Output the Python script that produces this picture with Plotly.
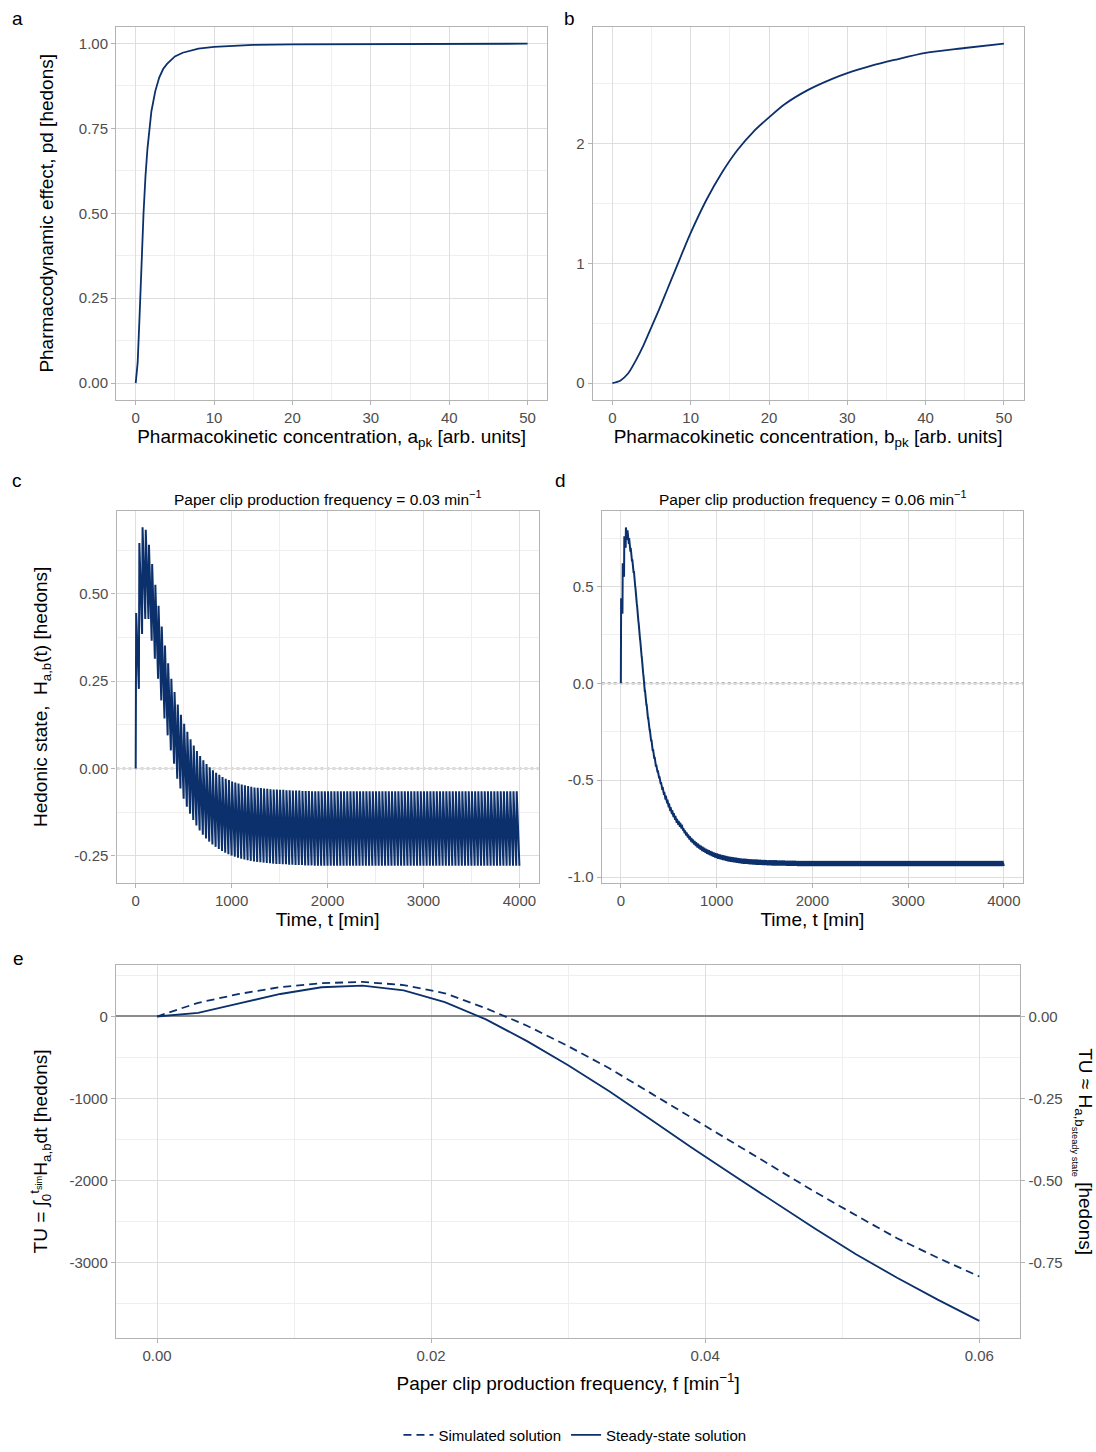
import plotly.graph_objects as go

# ------------------------------------------------------------------ data
# panel a : pharmacodynamic effect vs a_pk
a_conc = [0, 0.25, 0.5, 0.75, 1, 1.25, 1.5, 2, 2.5, 3, 3.5, 4, 5, 6, 7, 8, 10, 12, 15, 20, 25, 30, 40, 50]
a_pd = [0, 0.06, 0.20, 0.36, 0.50, 0.61, 0.69, 0.80, 0.86, 0.90, 0.925, 0.94, 0.962, 0.973,
        0.98, 0.985, 0.99, 0.993, 0.996, 0.9975, 0.998, 0.999, 0.9994, 0.9996]

# panel b : pharmacodynamic effect vs b_pk
b_conc = [0, 1, 2, 3, 4, 5, 6, 7, 8, 9, 10, 12, 14, 16, 18, 20, 22, 25, 28, 30, 33, 36, 40, 45, 50]
b_pd = [0, 0.02, 0.08, 0.19, 0.32, 0.47, 0.62, 0.78, 0.94, 1.10, 1.255, 1.53, 1.76, 1.95, 2.10,
        2.22, 2.33, 2.45, 2.54, 2.59, 2.65, 2.70, 2.76, 2.80, 2.837]

# panel c : hedonic state, f = 0.03 /min  (peak after each dose, trough before next dose)
c_freq = 0.03
c_peak = [0.445, 0.645, 0.690, 0.683, 0.640, 0.585, 0.526, 0.466, 0.406, 0.352, 0.301, 0.257,
          0.219, 0.183, 0.154, 0.128, 0.105, 0.084, 0.066, 0.050, 0.036, 0.024, 0.013, 0.004,
          -0.005, -0.012, -0.018, -0.024, -0.029, -0.033, -0.037, -0.040, -0.043, -0.046,
          -0.048, -0.050, -0.052, -0.054, -0.055, -0.056, -0.057, -0.058, -0.059, -0.060,
          -0.060, -0.061, -0.061, -0.062, -0.062, -0.063, -0.063, -0.063, -0.064, -0.064,
          -0.064] + [-0.065] * 65
c_trough = [0.228, 0.385, 0.428, 0.428, 0.366, 0.314, 0.257, 0.195, 0.143, 0.095, 0.052, 0.014,
            -0.029, -0.057, -0.086, -0.109, -0.129, -0.147, -0.163, -0.177, -0.189, -0.200,
            -0.209, -0.217, -0.224, -0.230, -0.236, -0.241, -0.245, -0.249, -0.252, -0.255,
            -0.258, -0.260, -0.262, -0.264, -0.266, -0.267, -0.268, -0.269, -0.270, -0.271,
            -0.272, -0.273, -0.273, -0.274, -0.274, -0.275, -0.275, -0.276, -0.276, -0.276,
            -0.277, -0.277, -0.277] + [-0.278] * 65

# panel d : hedonic state, f = 0.06 /min
d_freq = 0.06
d_peak = ([0.44, 0.62, 0.76, 0.805, 0.79, 0.75, 0.70, 0.64, 0.58, 0.49, 0.40, 0.31, 0.22, 0.13,
           0.04, -0.04, -0.11, -0.18, -0.24, -0.29, -0.34, -0.38, -0.42, -0.45, -0.48, -0.51,
           -0.535, -0.56, -0.58, -0.60, -0.62, -0.64, -0.655, -0.67, -0.685, -0.70, -0.71,
           -0.72, -0.73,
           -0.748, -0.760, -0.770, -0.780, -0.790, -0.798, -0.806, -0.814, -0.821, -0.827,
           -0.833, -0.839, -0.844, -0.849, -0.854, -0.858, -0.862, -0.866, -0.869, -0.873,
           -0.876, -0.879, -0.881, -0.884, -0.886, -0.888, -0.890, -0.892, -0.894, -0.895,
           -0.897, -0.898, -0.899, -0.900, -0.902, -0.903, -0.904, -0.905, -0.905, -0.906,
           -0.907, -0.908, -0.908, -0.909, -0.909, -0.910, -0.910, -0.911, -0.911, -0.912,
           -0.912, -0.912]
          + [-0.913] * 3 + [-0.914] * 4 + [-0.915] * 5 + [-0.916] * 7 + [-0.917] * 130)
d_trough = ([0.36, 0.55, 0.70, 0.74, 0.72, 0.68, 0.63, 0.57, 0.50, 0.41, 0.32, 0.23, 0.14, 0.05,
             -0.04, -0.11, -0.18, -0.24, -0.30, -0.35, -0.39, -0.43, -0.46, -0.49, -0.52, -0.55,
             -0.575, -0.60, -0.62, -0.64, -0.66, -0.675, -0.69, -0.705, -0.72, -0.73, -0.74,
             -0.75, -0.76,
             -0.774, -0.786, -0.796, -0.806, -0.816, -0.824, -0.832, -0.840, -0.847, -0.853,
             -0.859, -0.865, -0.870, -0.875, -0.880, -0.884, -0.888, -0.892, -0.895, -0.899,
             -0.902, -0.905, -0.907, -0.910, -0.912, -0.914, -0.916, -0.918, -0.920, -0.921,
             -0.923, -0.924, -0.925, -0.926, -0.928, -0.929, -0.930, -0.931, -0.931, -0.932,
             -0.933, -0.934, -0.934, -0.935, -0.935, -0.936, -0.936, -0.937, -0.937, -0.938,
             -0.938, -0.938]
            + [-0.939] * 3 + [-0.940] * 4 + [-0.941] * 5 + [-0.942] * 7 + [-0.943] * 130)

# panel e : total utility vs paper clip production frequency
e_freq = [0.000, 0.003, 0.006, 0.009, 0.012, 0.015, 0.018, 0.021, 0.024, 0.027, 0.030,
          0.033, 0.036, 0.039, 0.042, 0.045, 0.048, 0.051, 0.054, 0.057, 0.060]
tu_simulated = [0, 167, 275, 358, 406, 421, 383, 283, 100, -112, -361, -630, -930, -1232,
                -1535, -1840, -2135, -2420, -2700, -2940, -3165]
tu_steady = [0, 44, 160, 274, 356, 375, 318, 175, -35, -300, -593, -910, -1250, -1596,
             -1928, -2255, -2580, -2895, -3180, -3450, -3705]
t_sim = 4000  # min, right axis = TU / t_sim

# tick labels
ab_xticks = [0, 10, 20, 30, 40, 50]
a_yticks = [0, 0.25, 0.5, 0.75, 1.0]
a_ytext = ["0.00", "0.25", "0.50", "0.75", "1.00"]
b_yticks = [0, 1, 2]
t_ticks = [0, 1000, 2000, 3000, 4000]
c_yticks = [-0.25, 0, 0.25, 0.5]
c_ytext = ["-0.25", "0.00", "0.25", "0.50"]
d_yticks = [-1.0, -0.5, 0.0, 0.5]
d_ytext = ["-1.0", "-0.5", "0.0", "0.5"]
e_xticks = [0, 0.02, 0.04, 0.06]
e_xtext = ["0.00", "0.02", "0.04", "0.06"]
e_yticks = [0, -1000, -2000, -3000]
e_y2ticks = [0, -0.25, -0.5, -0.75]
e_y2text = ["0.00", "-0.25", "-0.50", "-0.75"]

# ------------------------------------------------------------------ styling helpers
W, H = 1096, 1452
NAVY = "#0c306b"
FONT = "Liberation Sans, Arial, Helvetica, sans-serif"


def dom_x(p0, p1):
    return [p0 / W, p1 / W]


def dom_y(top, bottom):
    return [1 - bottom / H, 1 - top / H]


def axis(domain, rng, tickvals, ticktext, minor_vals, anchor, title=None, standoff=6, **kw):
    d = dict(domain=domain, range=rng, anchor=anchor, tickmode="array",
             tickvals=tickvals, ticktext=ticktext,
             showline=True, linecolor="#B3B3B3", linewidth=1.2, mirror=True,
             ticks="outside", ticklen=4, tickwidth=1, tickcolor="#B3B3B3",
             showgrid=True, gridcolor="#DEDEDE", gridwidth=1, zeroline=False,
             tickfont=dict(family=FONT, size=15, color="#4D4D4D"),
             minor=dict(tickmode="array", tickvals=minor_vals, showgrid=True,
                        gridcolor="#EFEFEF", gridwidth=0.7, ticks=""),
             layer="below traces", fixedrange=True)
    if title is not None:
        d["title"] = dict(text=title, font=dict(family=FONT, size=19, color="black"),
                          standoff=standoff)
    d.update(kw)
    return d


def pulse_trace(freq, peaks, troughs, rise):
    period = 1.0 / freq
    t, h = [0.0], [0.0]
    for k, (p, q) in enumerate(zip(peaks, troughs)):
        t += [k * period + rise, (k + 1) * period]
        h += [p, q]
    return t, h


fig = go.Figure()
line = dict(color=NAVY, width=1.8)

fig.add_trace(go.Scatter(x=a_conc, y=a_pd, mode="lines", line=line, showlegend=False,
                         xaxis="x", yaxis="y"))
fig.add_trace(go.Scatter(x=b_conc, y=b_pd, mode="lines",
                         line=dict(color=NAVY, width=1.8, shape="spline", smoothing=0.8),
                         showlegend=False, xaxis="x2", yaxis="y2"))
tc, hc = pulse_trace(c_freq, c_peak, c_trough, 5.0)
fig.add_trace(go.Scatter(x=tc, y=hc, mode="lines", line=dict(color=NAVY, width=2.0),
                         showlegend=False, xaxis="x3", yaxis="y3"))
td, hd = pulse_trace(d_freq, d_peak, d_trough, 3.0)
fig.add_trace(go.Scatter(x=td, y=hd, mode="lines", line=dict(color=NAVY, width=2.0),
                         showlegend=False, xaxis="x4", yaxis="y4"))
fig.add_trace(go.Scatter(x=e_freq, y=tu_simulated, mode="lines", name="Simulated solution",
                         line=dict(color=NAVY, width=1.8, dash="8px,5px"),
                         xaxis="x5", yaxis="y5"))
fig.add_trace(go.Scatter(x=e_freq, y=tu_steady, mode="lines", name="Steady-state solution",
                         line=dict(color=NAVY, width=1.8), xaxis="x5", yaxis="y5"))
# steady-state hedonic level on the secondary (right) axis: same curve divided by t_sim
fig.add_trace(go.Scatter(x=e_freq, y=[v / t_sim for v in tu_steady], mode="lines",
                         line=dict(color="rgba(0,0,0,0)", width=1), showlegend=False,
                         hoverinfo="skip", xaxis="x5", yaxis="y6"))

# ------------------------------------------------------------------ layout
ya = dom_y(26.7, 401.7)
yc = dom_y(512.7, 886.7)
ye = dom_y(969, 1343.3)
xa = dom_x(116.1, 547.2)
xb = dom_x(592.8, 1023.5)
xc = dom_x(116.5, 538.6)
xd = dom_x(601.7, 1023.0)
xe = dom_x(115.9, 1020.4)

ab_minor_x = [5, 15, 25, 35, 45]
t_minor = [500, 1500, 2500, 3500]

layout = dict(
    width=W, height=H, autosize=False,
    margin=dict(l=0, r=0, t=0, b=0),
    paper_bgcolor="white", plot_bgcolor="white",
    font=dict(family=FONT, color="black"),
    xaxis=axis(xa, [-2.5, 52.5], ab_xticks, [str(v) for v in ab_xticks], ab_minor_x, "y",
               "Pharmacokinetic concentration, a<sub>pk</sub> [arb. units]", 4),
    yaxis=axis(ya, [-0.05, 1.05], a_yticks, a_ytext, [0.125, 0.375, 0.625, 0.875], "x",
               "Pharmacodynamic effect, pd [hedons]", 20),
    xaxis2=axis(xb, [-2.5, 52.5], ab_xticks, [str(v) for v in ab_xticks], ab_minor_x, "y2",
                "Pharmacokinetic concentration, b<sub>pk</sub> [arb. units]", 4),
    yaxis2=axis(ya, [-0.1419, 2.979], b_yticks, [str(v) for v in b_yticks],
                [0.5, 1.5, 2.5], "x2"),
    xaxis3=axis(xc, [-200, 4200], t_ticks, [str(v) for v in t_ticks], t_minor, "y3",
                "Time, t [min]", 4),
    yaxis3=axis(yc, [-0.3275, 0.738], c_yticks, c_ytext, [-0.125, 0.125, 0.375, 0.625], "x3",
                "Hedonic state,  H<sub>a,b</sub>(t) [hedons]", 21),
    xaxis4=axis(xd, [-200, 4200], t_ticks, [str(v) for v in t_ticks], t_minor, "y4",
                "Time, t [min]", 4),
    yaxis4=axis(yc, [-1.031, 0.892], d_yticks, d_ytext, [-0.75, -0.25, 0.25, 0.75], "x4"),
    xaxis5=axis(xe, [-0.003, 0.063], e_xticks, e_xtext, [0.01, 0.03, 0.05], "y5",
                "Paper clip production frequency, f [min<sup>\u22121</sup>]", 13),
    yaxis5=axis(ye, [-3911, 627], e_yticks, [str(v) for v in e_yticks],
                [500, -500, -1500, -2500, -3500], "x5",
                "TU = \u222B<sub>0</sub><sup>t<sub>sim</sub></sup>H<sub>a,b</sub>dt [hedons]", 16,
                zeroline=True, zerolinecolor="#8C8C8C", zerolinewidth=1.6),
    yaxis6=dict(overlaying="y5", side="right", anchor="x5",
                range=[-3911 / t_sim, 627 / t_sim], tickmode="array",
                tickvals=e_y2ticks, ticktext=e_y2text, showgrid=False, zeroline=False,
                showline=False, ticks="outside", ticklen=4, tickwidth=1, tickcolor="#B3B3B3",
                tickfont=dict(family=FONT, size=15, color="#4D4D4D"), fixedrange=True),
    legend=dict(orientation="h", x=0.5246, xanchor="center", y=1 - 1441 / H, yanchor="middle",
                font=dict(family=FONT, size=15, color="black"), bgcolor="rgba(0,0,0,0)",
                itemwidth=30, tracegroupgap=0),
    showlegend=True,
)
fig.update_layout(**layout)

# dotted zero reference lines in panels c and d
for xr, yr in (("x3", "y3"), ("x4", "y4")):
    fig.add_shape(type="line", xref=f"{xr} domain", yref=yr, x0=0, x1=1, y0=0, y1=0,
                  line=dict(color="#666666", width=1.6, dash="dot"), layer="below")

# panel titles, tags and right-axis title
ann = []
title_font = dict(family=FONT, size=15.5, color="black")
ann.append(dict(text="Paper clip production frequency = 0.03 min<sup>\u22121</sup>",
                x=(xc[0] + xc[1]) / 2, y=1 - 500 / H, xref="paper", yref="paper",
                xanchor="center", yanchor="middle", showarrow=False, font=title_font))
ann.append(dict(text="Paper clip production frequency = 0.06 min<sup>\u22121</sup>",
                x=(xd[0] + xd[1]) / 2, y=1 - 500 / H, xref="paper", yref="paper",
                xanchor="center", yanchor="middle", showarrow=False, font=title_font))
for lab, px, py in (("a", 17, 19), ("b", 569.5, 18.5), ("c", 17, 482.5), ("d", 560, 482),
                    ("e", 18, 962)):
    ann.append(dict(text=lab, x=px / W, y=1 - py / H, xref="paper", yref="paper",
                    xanchor="center", yanchor="middle", showarrow=False,
                    font=dict(family=FONT, size=19, color="black")))
ann.append(dict(text="TU \u2248 H<sub>a,b<sub>steady state</sub></sub> [hedons]",
                x=1083 / W, y=1 - 1156 / H, xref="paper", yref="paper",
                xanchor="center", yanchor="middle", textangle=90, showarrow=False,
                font=dict(family=FONT, size=19, color="black")))
fig.update_layout(annotations=ann)

fig.write_html("out.html", config={"displayModeBar": False},
               post_script="document.body.style.margin='0';")
